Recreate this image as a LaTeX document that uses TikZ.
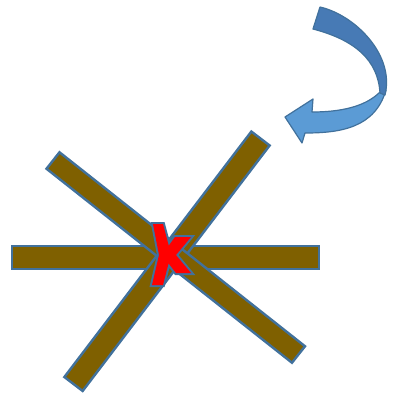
\documentclass[tikz,border=0pt]{standalone}
\usepackage{tikz}
\usetikzlibrary{calc}

\definecolor{wood}{HTML}{7F6000}
\definecolor{edgeblue}{HTML}{41719C}
\definecolor{arrowdk}{HTML}{477AB5}
\definecolor{arrowlt}{HTML}{5B9BD5}

\tikzset{
  woodbar/.style={fill=wood,draw=edgeblue,line width=2.4pt,line join=miter},
  arrowpart/.style={draw=edgeblue,line width=1.2pt,line join=round},
}

\begin{document}
\begin{tikzpicture}[x=1pt,y=-1pt]
\useasboundingbox (0,0) rectangle (394,392);

% Bar end points
\coordinate (hl) at (12,257.5);
\coordinate (hr) at (319,257.5);
\coordinate (dtop) at (260.5,138.5);
\coordinate (dbot) at (73.5,384);
\coordinate (etop) at (53,160.5);
\coordinate (ebot) at (298.5,354.5);

% Three crossing bars
\foreach \a/\b/\w in {hl/hr/11.5pt, dtop/dbot/11.5pt, etop/ebot/10.5pt}
  \draw[woodbar] ($(\a)!\w!90:(\b)$) -- ($(\b)!\w!-90:(\a)$)
    -- ($(\b)!\w!90:(\a)$) -- ($(\a)!\w!-90:(\b)$) -- cycle;

% Red mark at the crossing
\draw[edgeblue,line width=4pt,line join=miter]
  (153,224) -- (163,224) -- (171,254) -- (163,285) -- (152,285) -- (159,255) -- cycle
  (175,237) -- (191,237) -- (176,255) -- (191,273) -- (176,273) -- (162,255) -- cycle;
\fill[red]
  (153,224) -- (163,224) -- (171,254) -- (163,285) -- (152,285) -- (159,255) -- cycle
  (175,237) -- (191,237) -- (176,255) -- (191,273) -- (176,273) -- (162,255) -- cycle;

% Curved arrow, lower light part
\draw[arrowpart,fill=arrowlt] (312,112) -- (313,99) -- (285,117) -- (302,143) -- (305,133)
  .. controls (340,133) and (375,128) .. (386,90) -- (380,92)
  .. controls (365,107) and (340,112) .. (312,112) -- cycle;
% Curved arrow, upper dark part
\draw[arrowpart,fill=arrowdk] (320,7) .. controls (355,15) and (395,55) .. (385,95)
  -- (380,93) .. controls (378,60) and (355,40) .. (313,29) -- cycle;
\end{tikzpicture}
\end{document}
